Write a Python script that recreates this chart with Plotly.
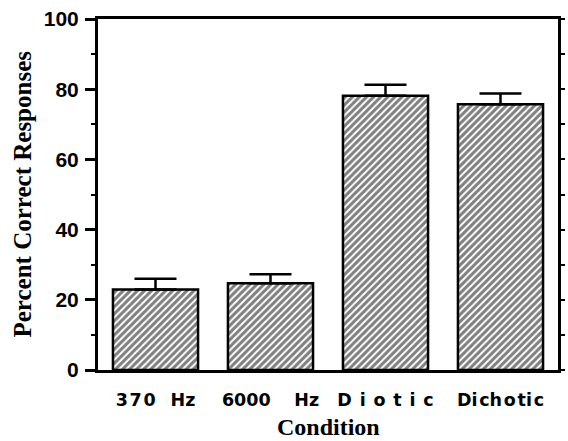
import plotly.graph_objects as go

categories = ["370  Hz", "6000  Hz", "Diotic", "Dichotic"]
tick_text = ["3\u200a7\u200a0\u2002 Hz", "6000\u2002\u2002 Hz",
             "D \u200ai \u200ao \u200at \u200ai \u200ac", "Di\u200ach\u200ao\u200ati\u200ac"]
values = [22.9, 24.7, 78.1, 75.7]
errors = [3.1, 2.6, 3.2, 3.1]
y_ticks = [0, 20, 40, 60, 80, 100]

SANS = "Liberation Sans, Arial, sans-serif"
WIDE = "DejaVu Sans, Liberation Sans, sans-serif"
SERIF = "Liberation Serif, Times New Roman, serif"

fig = go.Figure()
fig.add_trace(go.Bar(
    x=categories, y=values,
    marker=dict(color="white",
                line=dict(color="black", width=2.5),
                pattern=dict(shape="/", fgcolor="black", bgcolor="white", size=5, solidity=0.6)),
    error_y=dict(type="data", array=errors, arrayminus=[0]*len(errors), symmetric=False,
                 color="black", thickness=2.5, width=21),
    showlegend=False,
))
# invisible trace on right axis for mirrored ticks
fig.add_trace(go.Scatter(x=categories, y=values, yaxis="y2", mode="markers",
                         marker=dict(opacity=0), showlegend=False, hoverinfo="skip"))

fig.update_layout(
    width=568, height=441,
    margin=dict(l=98, r=10, t=19, b=71),
    paper_bgcolor="white", plot_bgcolor="white",
    bargap=0.26,
    xaxis=dict(
        type="category", tickvals=categories, ticktext=tick_text, automargin=False,
        showline=True, linecolor="black", linewidth=2.5, mirror=True,
        ticks="", showgrid=False, zeroline=False,
        tickfont=dict(family=WIDE, size=17.5, color="black", weight="bold"),
        ticklabelstandoff=12,
    ),
    yaxis=dict(
        range=[0, 100], tickvals=y_ticks, automargin=False,
        showline=True, linecolor="black", linewidth=3,
        ticks="outside", ticklen=10, tickwidth=2.5, tickcolor="black",
        minor=dict(dtick=10, ticks="outside", ticklen=4, tickwidth=2, tickcolor="black"),
        showgrid=False, zeroline=False,
        tickfont=dict(family=SANS, size=21, color="black", weight="bold"),
        ticklabelstandoff=2,
    ),
    yaxis2=dict(
        range=[0, 100], overlaying="y", side="right", dtick=10, automargin=False,
        showline=True, linecolor="black", linewidth=2.5,
        ticks="outside", ticklen=4, tickwidth=2, tickcolor="black",
        showticklabels=False, showgrid=False, zeroline=False,
    ),
    annotations=[
        dict(text="Percent Correct Responses", x=(22 - 98) / 460, y=0.5, xref="paper", yref="paper",
             xanchor="center", yanchor="middle", textangle=-90, showarrow=False,
             font=dict(family=SERIF, size=25, color="black", weight="bold")),
        dict(text="Condition", x=0.5, y=-(427 - 370) / 351, xref="paper", yref="paper",
             xanchor="center", yanchor="middle", showarrow=False,
             font=dict(family=SERIF, size=24, color="black", weight="bold")),
    ],
)

fig.write_html("out.html", config={"displayModeBar": False},
               post_script="document.body.style.margin='0';document.body.style.overflow='hidden';")
